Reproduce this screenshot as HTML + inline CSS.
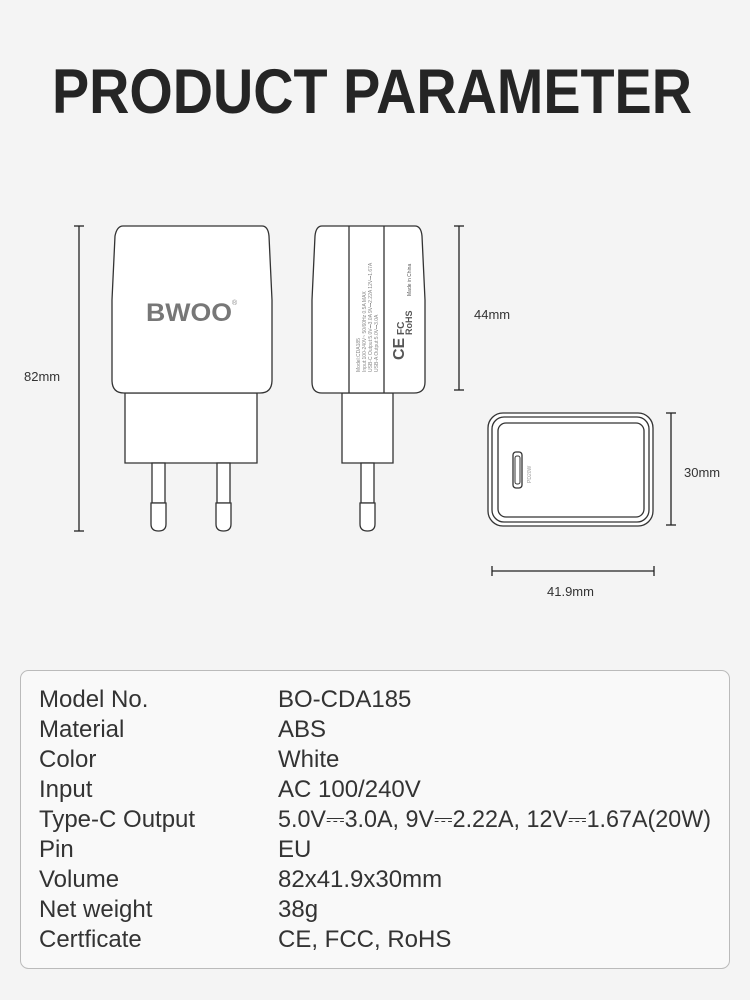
<!DOCTYPE html>
<html><head><style>
html,body{margin:0;padding:0;}
body{width:750px;height:1000px;background:linear-gradient(#f2f2f2,#f8f8f8);overflow:hidden;}
svg{display:block;}
text{font-family:"Liberation Sans",sans-serif;}
</style></head><body>
<svg width="750" height="1000" viewBox="0 0 750 1000" xmlns="http://www.w3.org/2000/svg">
<rect width="750" height="1000" fill="#f4f4f4"/>
<text x="52" y="113" font-size="63" font-weight="bold" fill="#252525" textLength="640" lengthAdjust="spacingAndGlyphs">PRODUCT PARAMETER</text>

<g fill="#fff" stroke="#333" stroke-width="1.3">
<!-- front -->
<path d="M125 393 H257 V463 H125 Z"/>
<path d="M123 226 H262 Q268 226 269 236 L272 300 V380 Q272 393 260 393 H124 Q112 393 112 380 V300 L115 236 Q117 226 123 226 Z"/>
<rect x="152" y="463" width="13" height="40"/>
<path d="M151 503 H166 V524 Q166 531 158.5 531 Q151 531 151 524 Z"/>
<rect x="217" y="463" width="13" height="40"/>
<path d="M216 503 H231 V524 Q231 531 223.5 531 Q216 531 216 524 Z"/>
<!-- side -->
<path d="M342 393 H393 V463 H342 Z"/>
<path d="M322 226 H415 Q421 226 422 236 L425 300 V382 Q425 393 414 393 H322 Q312 393 312 382 V300 L315 236 Q316 226 322 226 Z"/>
<line x1="349" y1="226" x2="349" y2="393"/>
<line x1="384" y1="226" x2="384" y2="393"/>
<rect x="361" y="463" width="13" height="40"/>
<path d="M360 503 H375 V524 Q375 531 367.5 531 Q360 531 360 524 Z"/>
<!-- bottom -->
<rect x="488" y="413" width="165" height="113" rx="15"/>
<rect x="492" y="417" width="157" height="105" rx="12"/>
<rect x="498" y="423" width="146" height="94" rx="8"/>
<rect x="513" y="452" width="9" height="36" rx="3"/>
<rect x="515" y="456" width="5" height="28" rx="2" stroke-width="1"/>
</g>
<text x="146" y="321" font-size="25" font-weight="bold" fill="#777" textLength="86" lengthAdjust="spacingAndGlyphs">BWOO</text>
<text x="232" y="305" font-size="7" fill="#888">®</text>
<g fill="#888" font-size="5">
<text transform="translate(360,372) rotate(-90)">Model:CDA185</text>
<text transform="translate(366,372) rotate(-90)">Input:100-240V~ 50/60Hz 0.5A MAX</text>
<text transform="translate(372,372) rotate(-90)">USB-C Output:5.0V⎓3.0A 9V⎓2.22A 12V⎓1.67A</text>
<text transform="translate(378,372) rotate(-90)">USB-A Output:5.0V⎓3.0A</text>
</g>
<g fill="#555" font-weight="bold">
<text transform="translate(404,360) rotate(-90)" font-size="16">CE</text>
<text transform="translate(404,335) rotate(-90)" font-size="10">FC</text>
<text transform="translate(412,335) rotate(-90)" font-size="9">RoHS</text>
<text transform="translate(411,296) rotate(-90)" font-size="5" font-weight="normal">Made in China</text>
</g>
<text transform="translate(531,483) rotate(-90)" font-size="5" fill="#999">PD20W</text>

<g stroke="#222" stroke-width="1.3">
<line x1="79" y1="226" x2="79" y2="531"/><line x1="74" y1="226" x2="84" y2="226"/><line x1="74" y1="531" x2="84" y2="531"/>
<line x1="459" y1="226" x2="459" y2="390"/><line x1="454" y1="226" x2="464" y2="226"/><line x1="454" y1="390" x2="464" y2="390"/>
<line x1="671" y1="413" x2="671" y2="525"/><line x1="666" y1="413" x2="676" y2="413"/><line x1="666" y1="525" x2="676" y2="525"/>
<line x1="492" y1="571" x2="654" y2="571"/><line x1="492" y1="566" x2="492" y2="576"/><line x1="654" y1="566" x2="654" y2="576"/>
</g>
<g font-size="13" fill="#333">
<text x="24" y="381">82mm</text>
<text x="474" y="319">44mm</text>
<text x="684" y="477">30mm</text>
<text x="547" y="596">41.9mm</text>
</g>

<rect x="20.5" y="670.5" width="709" height="298" rx="8" fill="#f9f9f9" stroke="#bbb" stroke-width="1"/>
<g font-size="24" fill="#333">
<text x="39" y="707">Model No.</text><text x="278" y="707">BO-CDA185</text>
<text x="39" y="737">Material</text><text x="278" y="737">ABS</text>
<text x="39" y="767">Color</text><text x="278" y="767">White</text>
<text x="39" y="797">Input</text><text x="278" y="797">AC 100/240V</text>
<text x="39" y="827">Type-C Output</text><text x="278" y="827" textLength="433" lengthAdjust="spacingAndGlyphs">5.0V⎓3.0A, 9V⎓2.22A, 12V⎓1.67A(20W)</text>
<text x="39" y="857">Pin</text><text x="278" y="857">EU</text>
<text x="39" y="887">Volume</text><text x="278" y="887">82x41.9x30mm</text>
<text x="39" y="917">Net weight</text><text x="278" y="917">38g</text>
<text x="39" y="947">Certficate</text><text x="278" y="947">CE, FCC, RoHS</text>
</g>
</svg>
</body></html>
